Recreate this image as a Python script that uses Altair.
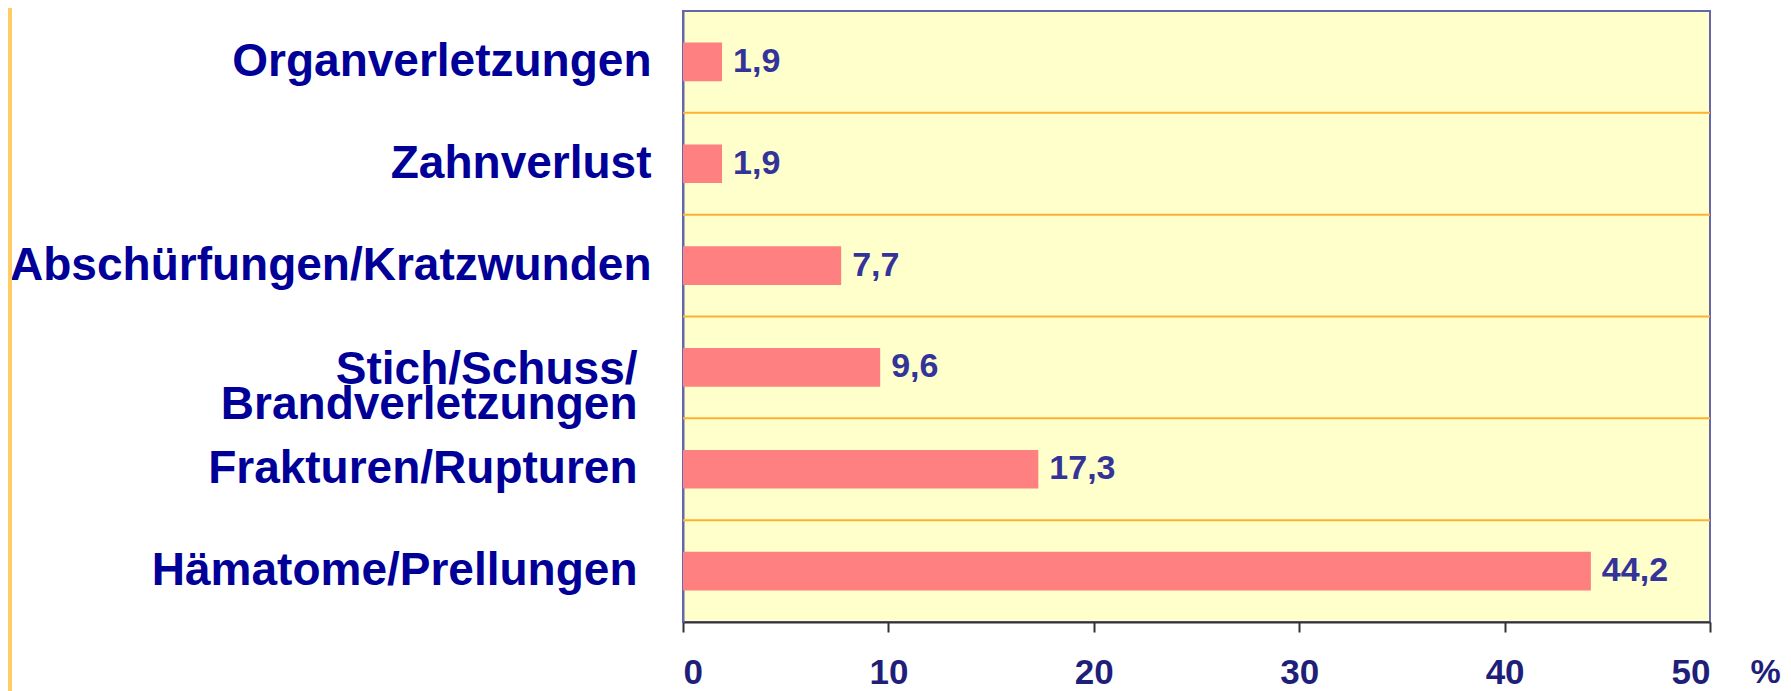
import altair as alt
import pandas as pd

categories = [
    "Organverletzungen",
    "Zahnverlust",
    "Abschürfungen/Kratzwunden",
    "Stich/Schuss/\nBrandverletzungen",
    "Frakturen/Rupturen",
    "Hämatome/Prellungen",
]
values = [1.9, 1.9, 7.7, 9.6, 17.3, 44.2]
x_ticks = [0, 10, 20, 30, 40, 50]

df = pd.DataFrame({
    "cat": categories,
    "val": values,
    "lab": [f"{v:.1f}".replace(".", ",") for v in values],
})

NAVY = "#000099"
LABEL_BLUE = "#333399"
LOWER = "(indexof(datum.value, 'Stich') >= 0 || indexof(datum.value, 'Fraktur') >= 0 || indexof(datum.value, 'Hämatom') >= 0)"

y_scale = alt.Scale(paddingInner=0, paddingOuter=0)

y_axis = alt.Axis(
    title=None,
    labelExpr="split(datum.label, '\\n')",
    labelFont="Liberation Sans",
    labelFontWeight="bold",
    labelFontSize=46,
    labelColor=NAVY,
    labelLineHeight=35,
    labelPadding={"condition": {"test": LOWER, "value": 46}, "value": 32},
    labelLimit=800,
    labelOffset={"condition": {"test": "indexof(datum.value, 'Stich') >= 0", "value": 3}, "value": 0},
    ticks=False,
    grid=False,
    domainColor="#6666AA",
    domainWidth=2,
)

x_axis = alt.Axis(
    values=x_ticks,
    title="%",
    titleX=1082,
    titleY=50,
    titleAlign="center",
    titleBaseline="middle",
    titleFont="Liberation Sans",
    titleFontWeight="bold",
    titleFontSize=34,
    titleColor="#1F1F7A",
    labelFont="Liberation Sans",
    labelFontWeight="bold",
    labelFontSize=35,
    labelColor="#1F1F7A",
    labelBaseline="middle",
    labelPadding=40,
    tickSize=10,
    tickWidth=2,
    tickColor="#333333",
    domainColor="#333333",
    domainWidth=2,
    grid=False,
)

base = alt.Chart(df)

rules = base.transform_filter(alt.datum.cat != categories[0]).mark_rule(
    color="#FFB030", strokeWidth=2
).encode(
    y=alt.Y("cat:N", sort=categories, bandPosition=0, scale=y_scale, axis=y_axis),
)

bars = base.mark_bar(color="#FF8080", height={"band": 0.38}).encode(
    x=alt.X("val:Q", scale=alt.Scale(domain=[0, 50], nice=False), axis=x_axis),
    y=alt.Y("cat:N", sort=categories, scale=y_scale, axis=y_axis),
)

texts = base.mark_text(
    align="left", baseline="middle", dx=11,
    font="Liberation Sans", fontWeight="bold", fontSize=34, color=LABEL_BLUE,
).encode(
    x=alt.X("val:Q"),
    y=alt.Y("cat:N", sort=categories),
    text="lab:N",
)

stripe = base.mark_rule(color="#FFCC66", strokeWidth=4).encode(
    x=alt.value(-673), y=alt.value(-3), y2=alt.value(680)
)

chart = alt.layer(rules, bars, texts, stripe).properties(
    width=1027,
    height=611,
    autosize=alt.AutoSizeParams(type="none"),
    padding={"left": 675, "top": 3, "right": 73, "bottom": 69},
).configure_view(
    fill="#FFFFCC", stroke="#6666AA", strokeWidth=2
)

chart.save("out.html", embed_options={"renderer": "svg", "actions": False})
